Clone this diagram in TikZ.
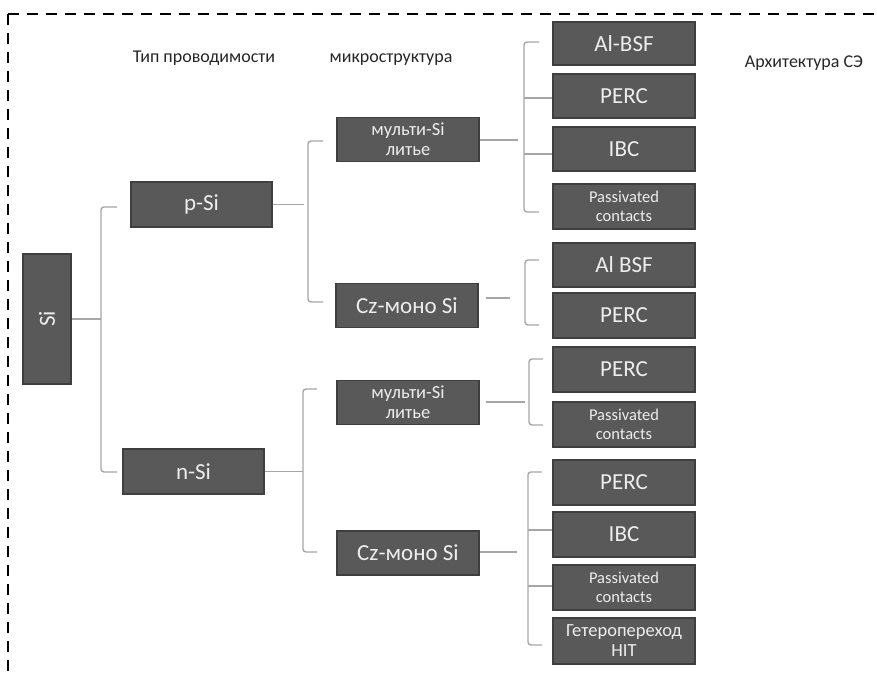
\documentclass[tikz,border=0pt]{standalone}
\usepackage{fontspec}
\setmainfont{Carlito}
\usetikzlibrary{calc}
\definecolor{boxfill}{HTML}{595959}
\definecolor{boxline}{HTML}{3F3F3F}
\definecolor{boxtext}{HTML}{EDEDED}
\definecolor{connline}{HTML}{A6A6A6}
\tikzset{
  box/.style={draw=boxline, line width=1.2pt, fill=boxfill, text=boxtext, inner sep=0pt, align=center, minimum width=142pt, minimum height=44pt},
  bigtxt/.style={font=\fontsize{23}{25}\selectfont},
  smalltxt/.style={font=\fontsize{16.5}{19}\selectfont},
  cyrtxt/.style={font=\fontsize{18.5}{20}\selectfont},
  header/.style={text=black!85, font=\fontsize{18}{20}\selectfont, inner sep=0pt},
  conn/.style={draw=connline, line width=1.4pt, rounded corners=3pt},
  frame/.style={draw=black, line width=1.8pt, dash pattern=on 11pt off 8pt}
}
\begin{document}
\begin{tikzpicture}[x=1pt,y=-1pt]
\useasboundingbox (0,0) rectangle (877,674);
% frame
\draw[frame] (8,14) -- (877,14);
\draw[frame] (8,14) -- (8,674);

% headers
\node[header] (h1) at (204,58) {Тип проводимости};
\node[header] (h2) at (391,60) {микроструктура};
\node[header] (h3) at (804,63) {Архитектура СЭ};

% level 0
\node[box, bigtxt, minimum width=48pt, minimum height=130pt] (si) at (47,319) {\rotatebox{90}{Si}};
% level 1
\node[box, bigtxt, minimum width=141pt, minimum height=45pt] (psi) at (201.5,204.5) {p-Si};
\node[box, bigtxt, minimum width=141pt, minimum height=45pt] (nsi) at (193.5,471.5) {n-Si};
% level 2
\node[box, cyrtxt] (m1) at (408,139.5) {мульти-Si\\литье};
\node[box, bigtxt] (cz1) at (407,305.5) {Cz-моно Si};
\node[box, cyrtxt] (m2) at (408,402.5) {мульти-Si\\литье};
\node[box, bigtxt] (cz2) at (408,553) {Cz-моно Si};
% level 3
\node[box, bigtxt, minimum height=43pt] (a1) at (624,43.5) {Al-BSF};
\node[box, bigtxt] (a2) at (624,96) {PERC};
\node[box, bigtxt] (a3) at (624,149) {IBC};
\node[box, smalltxt, minimum height=45pt] (a4) at (624,206.5) {Passivated\\contacts};
\node[box, bigtxt] (a5) at (624,265) {Al BSF};
\node[box, bigtxt, minimum height=45pt] (a6) at (624,315.5) {PERC};
\node[box, bigtxt, minimum height=45pt] (b1) at (624,369.5) {PERC};
\node[box, smalltxt, minimum height=45pt] (b2) at (624,424.5) {Passivated\\contacts};
\node[box, bigtxt, minimum height=45pt] (b3) at (624,482.5) {PERC};
\node[box, bigtxt, minimum height=45pt] (b4) at (624,534.5) {IBC};
\node[box, smalltxt, minimum height=45pt] (b5) at (624,587.5) {Passivated\\contacts};
\node[box, cyrtxt, minimum height=46pt] (b6) at (624,641) {Гетеропереход\\HIT};

% Si -> p-Si / n-Si
\coordinate (j0) at (101,319);
\draw[conn] (si.east) -- (j0);
\draw[conn] (117,207) -| (j0) |- (117,472);

% p-Si -> m1 / cz1
\coordinate (j1) at (308,204.5);
\draw[conn] (psi.east) -- ($(j1)+(-4,0)$);
\draw[conn] (323,141) -| (j1) |- (323,302);

% n-Si -> m2 / cz2
\coordinate (j2) at (303,471.5);
\draw[conn] (nsi.east) -- (j2);
\draw[conn] (317,389) -| (j2) |- (317,552);

% m1 -> a1..a4
\coordinate (j3) at (524,140);
\draw[conn] (m1.east |- j3) -- ($(j3)+(-6,0)$);
\draw[conn] (539,42) -| (j3) |- (539,212);
\draw[conn] (524,98) -- (a2.west |- 0,98);
\draw[conn] (524,154) -- (a3.west |- 0,154);

% cz1 -> a5, a6
\coordinate (j4) at (525,298);
\draw[conn] ($(cz1.east |- j4)+(7,0)$) -- ($(j4)+(-15,0)$);
\draw[conn] (539,260) -| (j4) |- (539,325);

% m2 -> b1, b2
\coordinate (j5) at (529,402);
\draw[conn] ($(m2.east |- j5)+(6,0)$) -- ($(j5)+(-4,0)$);
\draw[conn] (543,359) -| (j5) |- (543,425);

% cz2 -> b3..b6
\coordinate (j6) at (528,552);
\draw[conn] (cz2.east |- j6) -- ($(j6)+(-11,0)$);
\draw[conn] (542,472) -| (j6) |- (542,645);
\draw[conn] (528,530) -- (b4.west |- 0,530);
\draw[conn] (528,586) -- (b5.west |- 0,586);
\end{tikzpicture}
\end{document}
